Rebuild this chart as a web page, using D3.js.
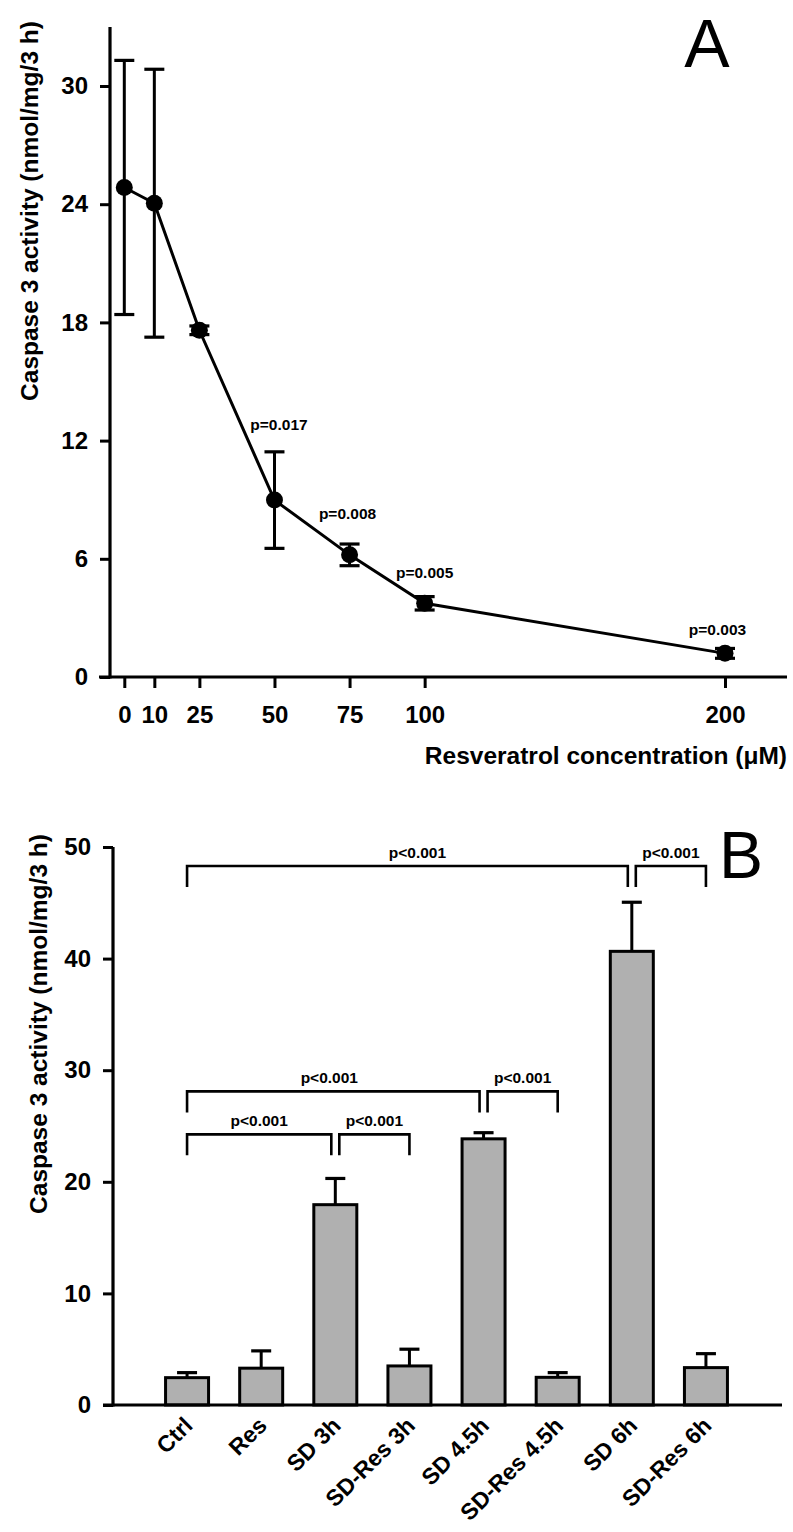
<!DOCTYPE html>
<html>
<head>
<meta charset="utf-8">
<script src="https://cdn.jsdelivr.net/npm/d3@7"></script>
<style>
  html, body { margin: 0; padding: 0; background: #fff; }
  svg text { font-family: "Liberation Sans", Arial, sans-serif; fill: #000; }
</style>
</head>
<body>
<svg id="chart" width="793" height="1532"></svg>
<script>
// Panel A: dose response
const concA = [0, 10, 25, 50, 75, 100, 200];
const meanA = [24.85, 24.05, 17.6, 8.98, 6.2, 3.74, 1.2];
const sdA = [6.45, 6.8, 0.22, 2.45, 0.55, 0.34, 0.25];
const pLabelA = ["", "", "", "p=0.017", "p=0.008", "p=0.005", "p=0.003"];
const yTicksA = [0, 6, 12, 18, 24, 30];
const xTicksA = [0, 10, 25, 50, 75, 100, 200];

// Panel B: bars
const groupsB = ["Ctrl", "Res", "SD 3h", "SD-Res 3h", "SD 4.5h", "SD-Res 4.5h", "SD 6h", "SD-Res 6h"];
const meanB = [2.45, 3.3, 17.95, 3.5, 23.85, 2.48, 40.65, 3.35];
const sdB = [0.45, 1.55, 2.35, 1.5, 0.55, 0.42, 4.4, 1.25];
const yTicksB = [0, 10, 20, 30, 40, 50];
const bracketPairs = [["Ctrl", "SD 6h"], ["SD 6h", "SD-Res 6h"], ["Ctrl", "SD 4.5h"], ["SD 4.5h", "SD-Res 4.5h"], ["Ctrl", "SD 3h"], ["SD 3h", "SD-Res 3h"]];
const bracketLevel = [48.3, 48.3, 28.1, 28.1, 24.25, 24.25];
const bracketText = ["p<0.001", "p<0.001", "p<0.001", "p<0.001", "p<0.001", "p<0.001"];

// label nudges (px) for the p-values in panel A: [dx, gap above error bar]
const pNudgeA = [[0, 0], [0, 0], [0, 0], [4.5, 22], [-2, 25], [0, 19], [-7.5, 13]];
const bracketNudge = [10, 0, -4, 0, 0, 0];

const svg = d3.select("#chart");
const FONT_TICK = 24;

// ---------- Panel A ----------
const xA = d3.scaleLinear().domain([0, 200]).range([124.3, 725]);
const yA = d3.scaleLinear().domain([0, 30]).range([677, 86]);
const gA = svg.append("g");

// axis lines
gA.append("line").attr("x1", 110).attr("x2", 110).attr("y1", yA(0) + 1.5).attr("y2", yA(33))
  .attr("stroke", "#000").attr("stroke-width", 3.2);
gA.append("line").attr("x1", 99).attr("x2", 787).attr("y1", yA(0)).attr("y2", yA(0))
  .attr("stroke", "#000").attr("stroke-width", 3.2);

const yAxisA = gA.append("g").attr("transform", "translate(110,0)")
  .call(d3.axisLeft(yA).tickValues(yTicksA).tickSize(10).tickPadding(12).tickFormat(d3.format("d")));
const xAxisA = gA.append("g").attr("transform", `translate(0,${yA(0)})`)
  .call(d3.axisBottom(xA).tickValues(xTicksA).tickSize(11).tickPadding(18).tickFormat(d3.format("d")));
[yAxisA, xAxisA].forEach(ax => {
  ax.select(".domain").remove();
  ax.selectAll(".tick line").attr("stroke", "#000").attr("stroke-width", 3);
  ax.selectAll(".tick text").attr("font-size", FONT_TICK).attr("font-weight", "bold")
    .attr("font-family", "'Liberation Sans', Arial, sans-serif").attr("fill", "#000");
});

const ptsA = concA.map((c, i) => ({ c, m: meanA[i], s: sdA[i], p: pLabelA[i], n: pNudgeA[i] }));

// error bars
const ebA = gA.selectAll(".ebA").data(ptsA).join("g").attr("class", "ebA");
ebA.append("line").attr("x1", d => xA(d.c)).attr("x2", d => xA(d.c))
  .attr("y1", d => yA(d.m + d.s)).attr("y2", d => yA(d.m - d.s))
  .attr("stroke", "#000").attr("stroke-width", 3);
[1, -1].forEach(sg => {
  ebA.append("line").attr("x1", d => xA(d.c) - 10).attr("x2", d => xA(d.c) + 10)
    .attr("y1", d => yA(d.m + sg * d.s)).attr("y2", d => yA(d.m + sg * d.s))
    .attr("stroke", "#000").attr("stroke-width", 3.2);
});

// line
gA.append("path").datum(ptsA)
  .attr("d", d3.line().x(d => xA(d.c)).y(d => yA(d.m)))
  .attr("fill", "none").attr("stroke", "#000").attr("stroke-width", 3);

gA.selectAll(".dotA").data(ptsA).join("circle").attr("class", "dotA")
  .attr("cx", d => xA(d.c)).attr("cy", d => yA(d.m)).attr("r", 8.5).attr("fill", "#000");

gA.selectAll(".pA").data(ptsA.filter(d => d.p)).join("text").attr("class", "pA")
  .attr("x", d => xA(d.c) + d.n[0]).attr("y", d => yA(d.m + d.s) - d.n[1])
  .attr("text-anchor", "middle").attr("font-size", 15.5).attr("font-weight", "bold")
  .text(d => d.p);

gA.append("text").attr("transform", "translate(38,211) rotate(-90)")
  .attr("text-anchor", "middle").attr("font-size", 24.5).attr("font-weight", "bold")
  .text("Caspase 3 activity (nmol/mg/3 h)");
gA.append("text").attr("x", 787).attr("y", 764).attr("text-anchor", "end")
  .attr("font-size", 24.5).attr("font-weight", "bold")
  .text("Resveratrol concentration (μM)");
gA.append("text").attr("x", 707).attr("y", 67).attr("text-anchor", "middle")
  .attr("font-size", 68).text("A");

// ---------- Panel B ----------
const xB = d3.scaleBand().domain(groupsB).range([150, 743]).paddingInner(0.42).paddingOuter(0.21);
const yB = d3.scaleLinear().domain([0, 50]).range([1405, 847]);
const gB = svg.append("g");
const cx = g => xB(g) + xB.bandwidth() / 2;

const barsB = groupsB.map((g, i) => ({ g, m: meanB[i], s: sdB[i] }));

// error bars (upper only)
gB.selectAll(".ebB").data(barsB).join("line").attr("class", "ebB")
  .attr("x1", d => cx(d.g)).attr("x2", d => cx(d.g))
  .attr("y1", d => yB(d.m)).attr("y2", d => yB(d.m + d.s))
  .attr("stroke", "#000").attr("stroke-width", 3);
gB.selectAll(".capB").data(barsB).join("line").attr("class", "capB")
  .attr("x1", d => cx(d.g) - 10).attr("x2", d => cx(d.g) + 10)
  .attr("y1", d => yB(d.m + d.s)).attr("y2", d => yB(d.m + d.s))
  .attr("stroke", "#000").attr("stroke-width", 3.2);

gB.selectAll(".barB").data(barsB).join("rect").attr("class", "barB")
  .attr("x", d => xB(d.g)).attr("width", xB.bandwidth())
  .attr("y", d => yB(d.m)).attr("height", d => yB(0) - yB(d.m))
  .attr("fill", "#b0b0b0").attr("stroke", "#000").attr("stroke-width", 3);

gB.append("line").attr("x1", 113).attr("x2", 113).attr("y1", yB(0) + 1.5).attr("y2", yB(50))
  .attr("stroke", "#000").attr("stroke-width", 3.2);
gB.append("line").attr("x1", 103).attr("x2", 782).attr("y1", yB(0)).attr("y2", yB(0))
  .attr("stroke", "#000").attr("stroke-width", 3.2);

const yAxisB = gB.append("g").attr("transform", "translate(113,0)")
  .call(d3.axisLeft(yB).tickValues(yTicksB).tickSize(10).tickPadding(12).tickFormat(d3.format("d")));
yAxisB.select(".domain").remove();
yAxisB.selectAll(".tick line").attr("stroke", "#000").attr("stroke-width", 3);
yAxisB.selectAll(".tick text").attr("font-size", FONT_TICK).attr("font-weight", "bold")
  .attr("font-family", "'Liberation Sans', Arial, sans-serif").attr("fill", "#000");

gB.selectAll(".xlabB").data(groupsB).join("text").attr("class", "xlabB")
  .attr("transform", g => `translate(${cx(g) + 7},${yB(0) + 22}) rotate(-45)`)
  .attr("text-anchor", "end").attr("font-size", 23).attr("font-weight", "bold")
  .text(g => g);

// significance brackets
const legPx = 21;
const brk = bracketPairs.map((p, i) => {
  const x1 = cx(p[0]) + (p[0].startsWith("SD ") ? 4 : 0);
  const x2 = cx(p[1]) - (p[1].startsWith("SD ") ? 4 : 0);
  return { x1, x2, y: yB(bracketLevel[i]), t: bracketText[i], dx: bracketNudge[i] };
});
gB.selectAll(".brk").data(brk).join("path").attr("class", "brk")
  .attr("d", d => `M${d.x1},${d.y + legPx}V${d.y}H${d.x2}V${d.y + legPx}`)
  .attr("fill", "none").attr("stroke", "#000").attr("stroke-width", 2.6);
gB.selectAll(".brkT").data(brk).join("text").attr("class", "brkT")
  .attr("x", d => (d.x1 + d.x2) / 2 + d.dx).attr("y", d => d.y - 8)
  .attr("text-anchor", "middle").attr("font-size", 15.5).attr("font-weight", "bold")
  .text(d => d.t);

gB.append("text").attr("transform", "translate(47,1024) rotate(-90)")
  .attr("text-anchor", "middle").attr("font-size", 24.5).attr("font-weight", "bold")
  .text("Caspase 3 activity (nmol/mg/3 h)");
gB.append("text").attr("x", 741).attr("y", 878).attr("text-anchor", "middle")
  .attr("font-size", 66).text("B");
</script>
</body>
</html>
